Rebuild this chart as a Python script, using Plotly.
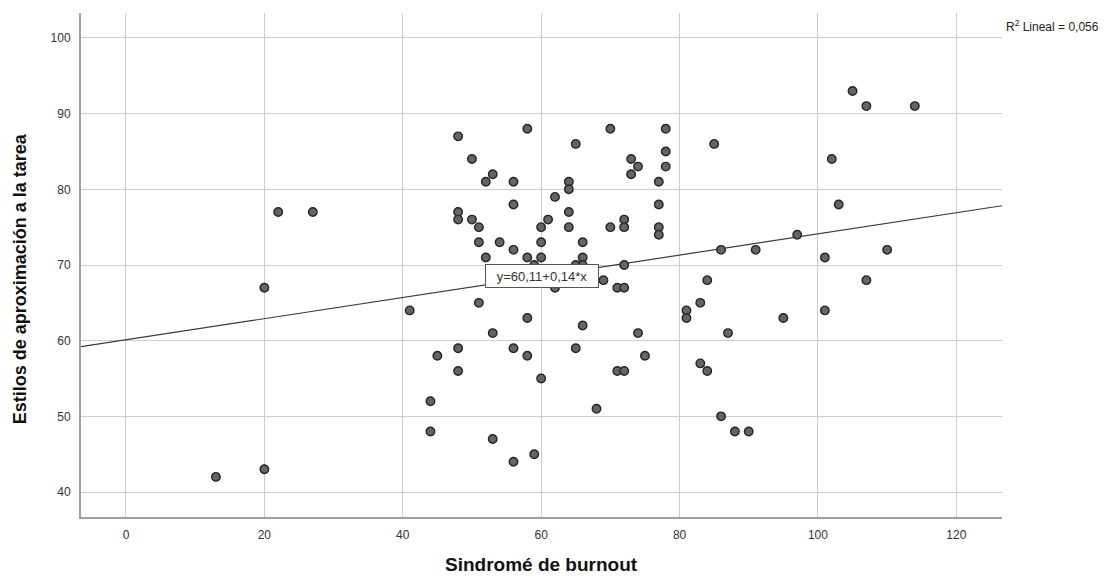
import plotly.graph_objects as go

# Data
burnout = [48, 58, 70, 78, 65, 50, 78, 73, 74, 78, 53, 52, 56, 64, 64, 73, 77, 62, 56, 77,
           48, 48, 50, 51, 60, 61, 64, 64, 70, 72, 72, 77, 77, 51, 54, 60, 66, 56, 52, 58,
           60, 66, 59, 65, 66, 72, 69, 62, 71, 72,
           41, 51, 58, 66, 53, 74, 81, 81, 83, 83, 48, 45, 56, 58, 65, 75, 48, 60, 71, 72,
           44, 68, 44, 53, 59, 56,
           105, 107, 114, 85, 102, 103, 97, 86, 91, 110,
           101, 84, 107, 95, 101, 87, 84, 86, 88, 90,
           22, 27, 20, 20, 13]
estilos = [87, 88, 88, 88, 86, 84, 85, 84, 83, 83, 82, 81, 81, 81, 80, 82, 81, 79, 78, 78,
           77, 76, 76, 75, 75, 76, 77, 75, 75, 76, 75, 75, 74, 73, 73, 73, 73, 72, 71, 71,
           71, 71, 70, 70, 70, 70, 68, 67, 67, 67,
           64, 65, 63, 62, 61, 61, 64, 63, 65, 57, 59, 58, 59, 58, 59, 58, 56, 55, 56, 56,
           52, 51, 48, 47, 45, 44,
           93, 91, 91, 86, 84, 78, 74, 72, 72, 72,
           71, 68, 68, 63, 64, 61, 56, 50, 48, 48,
           77, 77, 67, 43, 42]

intercept = 60.11
slope = 0.14
r2_text = "R<sup>2</sup> Lineal = 0,056"
eq_text = "y=60,11+0,14*x"

x_range = [-6.5, 126.6]
y_range = [36.7, 103.3]
x_ticks = [0, 20, 40, 60, 80, 100, 120]
y_ticks = [40, 50, 60, 70, 80, 90, 100]

x_title = "Sindromé de burnout"
y_title = "Estilos de aproximación a la tarea"

FONT = "Liberation Sans, Arial, sans-serif"

fig = go.Figure()

line_x = x_range
line_y = [intercept + slope * v for v in line_x]
fig.add_trace(go.Scatter(x=line_x, y=line_y, mode="lines",
                         line=dict(color="#3a3a3a", width=1.2),
                         hoverinfo="skip", showlegend=False))

fig.add_trace(go.Scatter(x=burnout, y=estilos, mode="markers",
                         marker=dict(size=8.5, color="#656565",
                                     line=dict(color="#262626", width=1.4)),
                         showlegend=False))

mid_x = (x_range[0] + x_range[1]) / 2
fig.add_annotation(x=mid_x, y=intercept + slope * mid_x, text=eq_text,
                   showarrow=False, xanchor="center", yanchor="middle",
                   font=dict(family=FONT, size=13, color="#333"),
                   bgcolor="white", bordercolor="#555", borderwidth=1,
                   borderpad=1, width=110, height=20)

fig.add_annotation(xref="paper", yref="paper", x=1.002, y=0.974, text=r2_text,
                   showarrow=False, xanchor="left", yanchor="middle",
                   font=dict(family=FONT, size=12, color="#222"))

fig.add_annotation(xref="paper", yref="paper", x=-0.066, y=0.472, text=y_title,
                   textangle=-90, showarrow=False, xanchor="center", yanchor="middle",
                   font=dict(family=FONT, size=18, color="#111", weight="bold"))

fig.add_annotation(xref="paper", yref="paper", x=0.5, y=-0.095, text=x_title,
                   showarrow=False, xanchor="center", yanchor="middle",
                   font=dict(family=FONT, size=19, color="#111", weight="bold"))

fig.update_layout(
    width=1118, height=576,
    margin=dict(l=81, r=116, t=13, b=59),
    paper_bgcolor="white", plot_bgcolor="white",
    xaxis=dict(range=x_range, tickvals=x_ticks, showgrid=True, gridcolor="#cdcdcd",
               gridwidth=1, zeroline=False, showline=True, linecolor="#a0a0a0",
               linewidth=2, ticks="", ticklabelstandoff=6,
               tickfont=dict(family=FONT, size=12, color="#333")),
    yaxis=dict(range=y_range, tickvals=y_ticks, showgrid=True, gridcolor="#cdcdcd",
               gridwidth=1, zeroline=False, showline=True, linecolor="#a0a0a0",
               linewidth=2, ticks="", ticklabelstandoff=6,
               tickfont=dict(family=FONT, size=12, color="#333")),
)

fig.write_html("out.html")
